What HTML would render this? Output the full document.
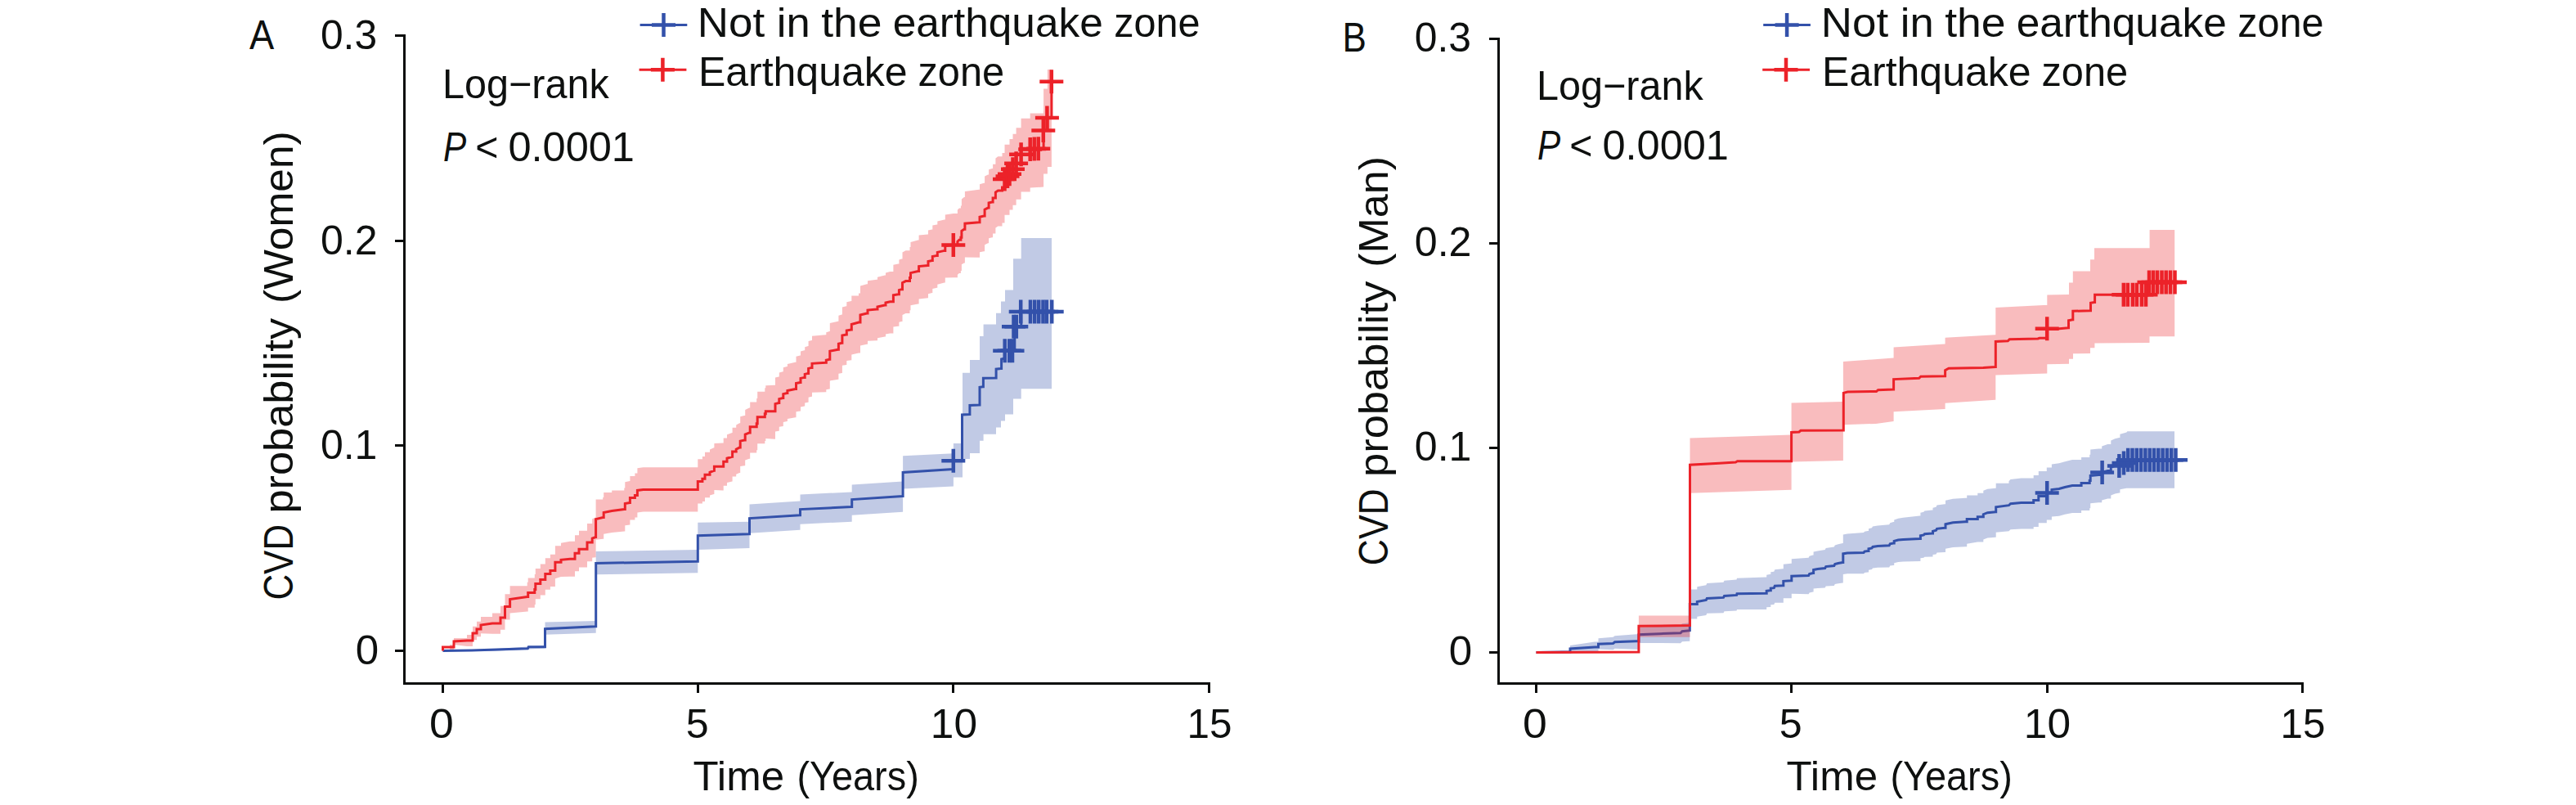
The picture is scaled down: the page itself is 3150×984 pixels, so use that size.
<!DOCTYPE html>
<html lang="en"><head><meta charset="utf-8"><title>CVD probability by earthquake zone</title>
<style>html,body{margin:0;padding:0;background:#fff}svg{display:block}text{font-family:"Liberation Sans", sans-serif;font-size:50.0px;fill:#0e100f}</style></head><body>
<svg width="3150" height="984" viewBox="0 0 3150 984">
<rect width="3150" height="984" fill="#fff"/>
<g id="panelA">
<polygon points="541.5,795.5 600.0,793.5 645.0,790.5 666.3,789.0 666.5,789.0 666.5,760.6 728.5,759.0 728.7,759.0 728.7,674.0 852.9,672.0 853.3,672.0 853.3,638.7 916.3,637.7 916.5,637.7 916.5,616.5 978.2,612.6 978.5,612.6 978.5,604.5 1041.5,601.5 1041.7,601.5 1041.7,592.4 1103.9,588.4 1104.1,588.4 1104.1,557.2 1165.7,554.2 1165.9,554.2 1165.9,542.0 1176.9,542.0 1177.0,542.0 1177.0,455.8 1186.0,455.8 1186.0,440.0 1198.0,440.0 1198.0,410.9 1202.6,410.9 1202.6,396.4 1218.0,396.4 1218.0,382.7 1224.0,382.7 1224.0,368.6 1229.0,368.6 1229.0,354.5 1239.0,354.5 1239.0,316.3 1248.7,316.3 1248.7,291.1 1286.0,291.1 1286.0,475.3 1248.7,475.3 1248.7,487.4 1239.0,487.4 1239.0,506.5 1229.0,506.5 1229.0,514.6 1224.0,514.6 1224.0,522.6 1218.0,522.6 1218.0,530.7 1202.6,530.7 1202.6,538.7 1198.0,538.7 1198.0,554.0 1186.0,554.0 1186.0,561.0 1177.0,561.0 1177.0,583.4 1176.9,583.4 1165.9,583.4 1165.9,594.5 1165.7,594.5 1104.1,597.5 1104.1,625.7 1103.9,625.7 1041.7,629.7 1041.7,637.7 1041.5,637.7 978.5,640.7 978.5,647.8 978.2,647.8 916.5,651.8 916.5,669.9 916.3,669.9 853.3,671.9 853.3,700.2 852.9,700.2 728.7,702.3 728.7,773.7 728.5,773.7 666.5,775.7 666.5,792.5 666.3,792.5 600.0,796.0 541.5,795.5" fill="#3351AA" fill-opacity="0.30"/>
<polyline points="541.5,795.5 577.0,795.0 645.3,792.8 646.3,790.8 666.3,790.8 666.5,790.8 666.5,768.7 727.8,765.7 728.5,765.7 728.7,765.7 728.7,688.5 852.9,686.2 853.3,686.2 853.3,654.8 916.3,652.8 916.5,652.8 916.5,633.6 978.2,629.7 978.5,629.7 978.5,622.6 1041.5,619.6 1041.7,619.6 1041.7,610.6 1103.9,606.5 1104.1,606.5 1104.1,577.4 1165.7,573.6 1165.9,573.6 1165.9,563.3 1175.3,563.3 1176.5,563.3 1176.5,507.0 1185.3,506.5 1185.9,506.5 1185.9,495.5 1197.4,495.0 1198.0,495.0 1198.0,473.3 1202.0,472.8 1202.4,472.8 1202.4,462.3 1217.5,461.9 1218.1,461.9 1218.1,451.2 1223.6,450.6 1224.6,450.6 1224.6,439.0 1228.6,438.0 1229.0,438.0 1229.0,429.0 1240.6,429.0 1240.8,429.0 1240.8,399.2 1248.6,399.2 1248.8,399.2 1248.8,380.7 1287.0,380.7" fill="none" stroke="#3351AA" stroke-width="3" stroke-linejoin="miter"/>
<path d="M1151.3 563.3H1180.3M1165.8 548.8V577.8" stroke="#3351AA" stroke-width="4.5" fill="none"/>
<path d="M1214.2 428.8H1243.2M1228.7 414.3V443.3" stroke="#3351AA" stroke-width="4.5" fill="none"/>
<path d="M1219.7 428.8H1248.7M1234.2 414.3V443.3" stroke="#3351AA" stroke-width="4.5" fill="none"/>
<path d="M1223.5 428.8H1252.5M1238.0 414.3V443.3" stroke="#3351AA" stroke-width="4.5" fill="none"/>
<path d="M1225.0 399.3H1254.0M1239.5 384.8V413.8" stroke="#3351AA" stroke-width="4.5" fill="none"/>
<path d="M1228.3 399.3H1257.3M1242.8 384.8V413.8" stroke="#3351AA" stroke-width="4.5" fill="none"/>
<path d="M1233.7 380.9H1262.7M1248.2 366.4V395.4" stroke="#3351AA" stroke-width="4.5" fill="none"/>
<path d="M1245.5 380.9H1274.5M1260.0 366.4V395.4" stroke="#3351AA" stroke-width="4.5" fill="none"/>
<path d="M1250.7 380.9H1279.7M1265.2 366.4V395.4" stroke="#3351AA" stroke-width="4.5" fill="none"/>
<path d="M1255.7 380.9H1284.7M1270.2 366.4V395.4" stroke="#3351AA" stroke-width="4.5" fill="none"/>
<path d="M1261.0 380.9H1290.0M1275.5 366.4V395.4" stroke="#3351AA" stroke-width="4.5" fill="none"/>
<path d="M1265.3 380.9H1294.3M1279.8 366.4V395.4" stroke="#3351AA" stroke-width="4.5" fill="none"/>
<path d="M1271.7 380.9H1300.7M1286.2 366.4V395.4" stroke="#3351AA" stroke-width="4.5" fill="none"/>
<polygon points="541.5,795.5 541.5,791.0 550.0,791.0 550.0,788.0 555.0,788.0 555.0,780.0 571.0,780.0 571.0,776.0 578.0,776.0 578.0,765.7 583.0,765.7 583.0,759.8 588.0,759.8 588.0,754.0 602.0,754.0 602.0,749.4 612.0,749.4 612.0,740.7 617.5,740.7 617.5,726.3 623.6,726.3 623.6,716.2 644.7,716.2 644.7,711.7 645.7,711.7 645.7,706.6 653.8,706.6 653.8,702.1 654.8,702.1 654.8,695.0 660.8,695.0 660.8,689.6 666.8,689.6 666.8,682.2 672.9,682.2 672.9,677.8 678.9,677.8 678.9,667.3 686.0,667.3 686.0,663.7 697.0,661.8 703.0,661.8 703.0,654.2 708.0,654.2 708.0,648.8 718.0,648.8 718.0,639.9 724.2,639.9 724.2,634.3 728.4,632.5 728.6,632.5 728.6,610.6 737.2,610.6 737.2,608.1 738.2,608.1 738.2,602.0 748.2,602.0 748.2,599.4 763.3,599.4 763.3,596.5 764.3,596.5 764.3,589.3 770.2,588.0 770.4,588.0 770.4,582.0 776.4,582.0 776.4,578.6 779.4,578.6 779.4,572.3 786.5,571.3 852.9,571.3 853.3,571.3 853.3,561.3 858.9,561.3 858.9,557.9 862.0,557.9 862.0,552.7 868.0,552.7 868.0,549.4 873.0,547.2 873.4,547.2 873.4,542.0 884.0,541.5 884.7,541.5 884.7,535.4 889.0,535.4 889.0,531.2 895.2,528.9 895.6,528.9 895.6,522.8 900.2,522.8 900.2,519.5 904.2,517.3 905.2,517.3 905.2,509.3 910.2,507.9 911.2,507.9 911.2,500.9 916.2,498.5 917.2,498.5 917.2,491.4 925.2,491.4 925.2,486.9 926.2,486.9 926.2,478.8 935.3,478.8 935.3,474.3 936.3,474.3 936.3,471.3 947.4,470.7 948.0,470.7 948.0,461.6 952.4,460.4 952.8,460.4 952.8,455.4 957.4,454.3 957.8,454.3 957.8,449.3 962.4,448.1 962.9,448.1 962.9,445.0 972.5,442.7 973.5,442.7 973.5,435.7 978.5,434.5 979.0,434.5 979.0,429.4 983.6,428.2 984.2,428.2 984.2,424.2 988.2,423.1 988.6,423.1 988.6,417.1 992.6,416.0 993.0,416.0 993.0,410.8 1009.7,409.3 1010.3,409.3 1010.3,406.3 1014.4,405.1 1014.8,405.1 1014.8,395.0 1024.8,392.7 1025.4,392.7 1025.4,385.7 1029.5,384.5 1029.9,384.5 1029.9,375.4 1034.9,374.2 1035.3,374.2 1035.3,369.2 1040.9,368.0 1041.3,368.0 1041.3,361.4 1050.0,361.4 1050.0,358.6 1052.0,358.6 1052.0,349.5 1060.0,347.2 1061.0,347.2 1061.0,343.2 1072.0,341.8 1073.0,341.8 1073.0,338.8 1082.0,336.5 1083.0,336.5 1083.0,333.4 1088.4,332.0 1092.4,332.0 1092.4,323.8 1098.4,322.6 1099.4,322.6 1099.4,317.6 1102.4,316.5 1103.5,316.5 1103.5,308.4 1107.5,306.2 1112.5,306.2 1112.5,302.0 1113.5,302.0 1113.5,296.0 1122.6,293.6 1123.6,293.6 1123.6,287.5 1134.6,286.5 1135.0,286.5 1135.0,281.5 1139.7,280.5 1140.3,280.5 1140.3,275.5 1145.7,274.4 1146.3,274.4 1146.3,270.4 1154.8,268.4 1155.8,268.4 1155.8,262.4 1165.8,260.9 1170.9,260.9 1170.9,256.6 1172.9,254.5 1174.9,254.5 1174.9,251.4 1175.9,251.4 1175.9,243.4 1178.9,241.1 1179.9,241.1 1179.9,234.1 1197.0,231.8 1198.0,231.8 1198.0,225.2 1203.0,223.7 1204.1,223.7 1204.1,215.6 1208.1,213.4 1209.1,213.4 1209.1,207.2 1213.1,205.9 1214.1,205.9 1214.1,200.8 1217.4,200.8 1217.4,193.6 1220.4,191.3 1225.5,191.3 1225.5,187.0 1228.5,187.0 1228.5,176.7 1234.5,176.7 1234.5,170.0 1238.5,170.0 1238.5,163.7 1242.6,163.7 1242.6,156.2 1248.6,156.2 1248.6,144.7 1259.7,144.7 1259.7,138.6 1275.9,138.6 1275.9,135.6 1276.1,135.6 1276.1,108.5 1280.7,108.5 1280.9,108.5 1280.9,85.0 1285.7,85.0 1285.9,85.0 1285.9,204.2 1285.7,204.0 1280.9,204.0 1280.9,212.5 1280.7,212.5 1276.1,212.5 1276.1,228.6 1275.9,228.6 1259.7,229.6 1259.7,234.6 1248.6,234.6 1248.6,243.7 1242.6,243.7 1242.6,250.7 1238.5,250.7 1238.5,256.6 1234.5,256.6 1234.5,262.7 1228.5,262.7 1228.5,272.6 1225.5,272.6 1225.5,276.5 1220.4,276.5 1217.4,278.4 1217.4,285.4 1214.1,285.4 1214.1,290.3 1213.1,290.3 1209.1,291.2 1209.1,297.3 1208.1,297.3 1204.1,299.2 1204.1,307.2 1203.0,307.2 1198.0,308.2 1198.0,314.7 1197.0,314.7 1179.9,314.5 1179.9,321.4 1178.9,321.4 1175.9,323.2 1175.9,331.1 1174.9,331.1 1174.9,333.9 1172.9,333.9 1170.9,335.7 1170.9,339.3 1165.8,339.3 1155.8,339.4 1155.8,345.4 1154.8,345.4 1146.3,347.7 1146.3,351.7 1145.7,351.7 1140.3,353.0 1140.3,358.0 1139.7,358.0 1135.0,359.2 1135.0,364.2 1134.6,364.2 1123.6,365.5 1123.6,371.6 1122.6,371.6 1113.5,373.2 1113.5,379.2 1112.5,379.2 1112.5,383.0 1107.5,383.0 1103.5,385.0 1103.5,392.9 1102.4,392.9 1099.4,393.8 1099.4,398.8 1098.4,398.8 1092.4,399.6 1092.4,407.6 1088.4,407.6 1083.0,408.6 1083.0,411.5 1082.0,411.5 1073.0,413.2 1073.0,416.2 1072.0,416.2 1061.0,416.8 1061.0,420.8 1060.0,420.8 1052.0,422.5 1052.0,431.4 1050.0,431.4 1041.3,433.6 1041.3,440.2 1040.9,440.2 1035.3,441.0 1035.3,446.0 1034.9,446.0 1029.9,446.8 1029.9,455.9 1029.5,455.9 1025.4,456.7 1025.4,463.7 1024.8,463.7 1014.8,465.4 1014.8,475.5 1014.4,475.5 1010.3,476.3 1010.3,479.3 1009.7,479.3 993.0,479.8 993.0,484.8 992.6,484.8 988.6,485.7 988.6,491.7 988.2,491.7 984.2,492.6 984.2,496.6 983.6,496.6 979.0,497.4 979.0,502.5 978.5,502.5 973.5,503.3 973.5,510.3 972.5,510.3 962.9,512.0 962.9,515.1 962.4,515.1 957.8,515.9 957.8,520.9 957.4,520.9 952.8,521.8 952.8,526.8 952.4,526.8 948.0,527.6 948.0,536.7 947.4,536.7 936.3,535.9 936.3,538.9 935.3,538.9 935.3,542.2 926.2,542.2 926.2,550.2 925.2,550.2 925.2,553.6 917.2,553.6 917.2,560.7 916.2,560.7 911.2,562.4 911.2,569.3 910.2,569.3 905.2,570.1 905.2,578.0 904.2,578.0 900.2,579.7 900.2,582.4 895.6,582.4 895.6,588.5 895.2,588.5 889.0,590.0 889.0,593.7 884.7,593.7 884.7,599.6 884.0,599.6 873.4,598.9 873.4,603.9 873.0,603.9 868.0,605.6 868.0,608.2 862.0,608.2 862.0,612.9 858.9,612.9 858.9,615.6 853.3,615.6 853.3,625.6 852.9,625.6 786.5,625.6 779.4,626.6 779.4,632.6 776.4,632.6 776.4,635.5 770.4,635.5 770.4,641.5 770.2,641.5 764.3,642.3 764.3,649.4 763.3,649.4 748.2,651.1 738.2,652.8 738.2,658.8 737.2,658.8 728.6,659.8 728.6,681.3 728.4,681.3 724.2,681.7 724.2,686.3 718.0,686.3 718.0,693.6 708.0,693.6 708.0,698.2 703.0,698.2 703.0,704.8 697.0,704.8 686.0,704.9 678.9,707.3 678.9,717.1 672.9,717.1 672.9,720.7 666.8,720.7 666.8,727.4 660.8,727.4 660.8,732.2 654.8,732.2 654.8,739.1 653.8,739.1 653.8,742.7 645.7,742.7 645.7,747.6 644.7,747.6 623.6,749.5 623.6,757.4 617.5,757.4 617.5,769.7 612.0,769.7 612.0,774.8 602.0,774.8 588.0,774.2 588.0,778.3 583.0,778.3 583.0,782.3 578.0,782.3 578.0,790.0 571.0,790.0 555.0,788.0 555.0,794.0 550.0,794.0 550.0,791.0 541.5,791.0 541.5,795.5" fill="#EC2229" fill-opacity="0.30"/>
<polyline points="541.5,795.5 541.5,791.0 550.0,791.0 555.0,791.0 555.0,784.0 571.0,783.0 578.0,783.0 578.0,774.0 583.0,774.0 583.0,769.0 588.0,769.0 588.0,764.0 602.0,762.0 612.0,762.0 612.0,755.0 617.5,755.0 617.5,741.6 623.6,741.6 623.6,732.6 644.7,729.5 645.7,729.5 645.7,724.5 653.8,724.5 653.8,720.5 654.8,720.5 654.8,713.5 660.8,713.5 660.8,708.4 666.8,708.4 666.8,701.4 672.9,701.4 672.9,697.4 678.9,697.4 678.9,687.3 686.0,687.3 686.0,684.3 697.0,683.3 703.0,683.3 703.0,676.2 708.0,676.2 708.0,671.2 718.0,671.2 718.0,663.1 724.2,663.1 724.2,658.0 728.4,656.5 728.6,656.5 728.6,634.6 737.2,632.6 738.2,632.6 738.2,626.6 748.2,624.6 763.3,622.6 764.3,622.6 764.3,615.5 770.2,614.5 770.4,614.5 770.4,608.5 776.4,608.5 776.4,605.5 779.4,605.5 779.4,599.4 786.5,598.4 852.9,598.4 853.3,598.4 853.3,588.4 858.9,588.4 858.9,585.3 862.0,585.3 862.0,580.3 868.0,580.3 868.0,577.3 873.0,575.3 873.4,575.3 873.4,570.2 884.0,570.2 884.7,570.2 884.7,564.2 889.0,564.2 889.0,560.2 895.2,558.2 895.6,558.2 895.6,552.1 900.2,552.1 900.2,549.1 904.2,547.1 905.2,547.1 905.2,539.1 910.2,538.0 911.2,538.0 911.2,531.0 916.2,528.9 917.2,528.9 917.2,521.8 925.2,521.8 925.2,517.8 926.2,517.8 926.2,509.7 935.3,509.7 935.3,505.7 936.3,505.7 936.3,502.7 947.4,502.7 948.0,502.7 948.0,493.6 952.4,492.6 952.8,492.6 952.8,487.6 957.4,486.6 957.8,486.6 957.8,481.6 962.4,480.6 962.9,480.6 962.9,477.5 972.5,475.5 973.5,475.5 973.5,468.5 978.5,467.5 979.0,467.5 979.0,462.4 983.6,461.4 984.2,461.4 984.2,457.4 988.2,456.4 988.6,456.4 988.6,450.4 992.6,449.4 993.0,449.4 993.0,444.3 1009.7,443.3 1010.3,443.3 1010.3,440.3 1014.4,439.3 1014.8,439.3 1014.8,429.2 1024.8,427.2 1025.4,427.2 1025.4,420.2 1029.5,419.2 1029.9,419.2 1029.9,410.1 1034.9,409.1 1035.3,409.1 1035.3,404.1 1040.9,403.1 1041.3,403.1 1041.3,396.5 1050.0,394.0 1052.0,394.0 1052.0,385.0 1060.0,383.0 1061.0,383.0 1061.0,379.0 1072.0,378.0 1073.0,378.0 1073.0,375.0 1082.0,373.0 1083.0,373.0 1083.0,370.0 1088.4,368.8 1092.4,368.8 1092.4,360.7 1098.4,359.7 1099.4,359.7 1099.4,354.7 1102.4,353.7 1103.5,353.7 1103.5,345.7 1107.5,343.6 1112.5,343.6 1112.5,339.6 1113.5,339.6 1113.5,333.6 1122.6,331.6 1123.6,331.6 1123.6,325.5 1134.6,324.5 1135.0,324.5 1135.0,319.5 1139.7,318.5 1140.3,318.5 1140.3,313.5 1145.7,312.4 1146.3,312.4 1146.3,308.4 1154.8,306.4 1155.8,306.4 1155.8,300.4 1165.8,299.4 1170.9,299.4 1170.9,295.3 1172.9,293.3 1174.9,293.3 1174.9,290.3 1175.9,290.3 1175.9,282.3 1178.9,280.2 1179.9,280.2 1179.9,273.2 1197.0,271.8 1198.0,271.8 1198.0,265.2 1203.0,264.1 1204.1,264.1 1204.1,256.1 1208.1,254.1 1209.1,254.1 1209.1,248.0 1213.1,247.0 1214.1,247.0 1214.1,242.0 1217.4,242.0 1217.4,235.0 1220.4,233.0 1225.5,233.0 1225.5,229.0 1228.5,229.0 1228.5,219.0 1234.5,219.0 1234.5,212.8 1238.5,212.8 1238.5,206.8 1242.6,206.8 1242.6,199.7 1248.6,199.7 1248.6,188.7 1259.7,188.7 1259.7,182.6 1275.9,181.6 1276.1,181.6 1276.1,159.5 1280.7,159.5 1280.9,159.5 1280.9,144.0 1285.7,144.0 1285.9,144.0 1285.9,99.7" fill="none" stroke="#EC2229" stroke-width="3" stroke-linejoin="miter"/>
<path d="M1151.3 299.4H1180.3M1165.8 284.9V313.9" stroke="#EC2229" stroke-width="4.5" fill="none"/>
<path d="M1214.0 219.0H1243.0M1228.5 204.5V233.5" stroke="#EC2229" stroke-width="4.5" fill="none"/>
<path d="M1217.5 215.5H1246.5M1232.0 201.0V230.0" stroke="#EC2229" stroke-width="4.5" fill="none"/>
<path d="M1220.0 212.8H1249.0M1234.5 198.3V227.3" stroke="#EC2229" stroke-width="4.5" fill="none"/>
<path d="M1224.0 206.8H1253.0M1238.5 192.3V221.3" stroke="#EC2229" stroke-width="4.5" fill="none"/>
<path d="M1228.1 199.7H1257.1M1242.6 185.2V214.2" stroke="#EC2229" stroke-width="4.5" fill="none"/>
<path d="M1234.1 188.7H1263.1M1248.6 174.2V203.2" stroke="#EC2229" stroke-width="4.5" fill="none"/>
<path d="M1245.2 182.6H1274.2M1259.7 168.1V197.1" stroke="#EC2229" stroke-width="4.5" fill="none"/>
<path d="M1250.2 182.0H1279.2M1264.7 167.5V196.5" stroke="#EC2229" stroke-width="4.5" fill="none"/>
<path d="M1255.2 181.8H1284.2M1269.7 167.3V196.3" stroke="#EC2229" stroke-width="4.5" fill="none"/>
<path d="M1261.3 159.5H1290.3M1275.8 145.0V174.0" stroke="#EC2229" stroke-width="4.5" fill="none"/>
<path d="M1265.9 144.0H1294.9M1280.4 129.5V158.5" stroke="#EC2229" stroke-width="4.5" fill="none"/>
<path d="M1271.3 99.7H1300.3M1285.8 85.2V114.2" stroke="#EC2229" stroke-width="4.5" fill="none"/>
<path d="M494.5 42.5V835.5H1480.0" stroke="#0b0d0c" stroke-width="3" fill="none" stroke-linejoin="miter"/>
<path d="M483.0 43.5H496.0" stroke="#0b0d0c" stroke-width="3"/>
<path d="M483.0 294.5H496.0" stroke="#0b0d0c" stroke-width="3"/>
<path d="M483.0 544.5H496.0" stroke="#0b0d0c" stroke-width="3"/>
<path d="M483.0 795.5H496.0" stroke="#0b0d0c" stroke-width="3"/>
<path d="M541.5 834V847" stroke="#0b0d0c" stroke-width="3"/>
<path d="M853.5 834V847" stroke="#0b0d0c" stroke-width="3"/>
<path d="M1165.5 834V847" stroke="#0b0d0c" stroke-width="3"/>
<path d="M1478.5 834V847" stroke="#0b0d0c" stroke-width="3"/>
<text x="391.9" y="60.3" textLength="69.2" lengthAdjust="spacingAndGlyphs">0.3</text>
<text x="391.9" y="311.3" textLength="69.6" lengthAdjust="spacingAndGlyphs">0.2</text>
<text x="391.9" y="561.3" textLength="69.5" lengthAdjust="spacingAndGlyphs">0.1</text>
<text x="434.8" y="812.3" textLength="28.4" lengthAdjust="spacingAndGlyphs">0</text>
<text x="525.1" y="902.3" textLength="29.8" lengthAdjust="spacingAndGlyphs">0</text>
<text x="838.8" y="902.3" textLength="27.9" lengthAdjust="spacingAndGlyphs">5</text>
<text x="1137.8" y="902.3" textLength="57.2" lengthAdjust="spacingAndGlyphs">10</text>
<text x="1451.4" y="902.3" textLength="55.0" lengthAdjust="spacingAndGlyphs">15</text>
<text x="304.9" y="60.3" textLength="30.2" lengthAdjust="spacingAndGlyphs">A</text>
<text transform="translate(357.6 731.4) rotate(-90)" y="0"><tspan x="-2.2" textLength="92.7" lengthAdjust="spacingAndGlyphs">CVD</tspan> <tspan x="103.8" textLength="238.7" lengthAdjust="spacingAndGlyphs">probability</tspan> <tspan x="360.4" textLength="210.7" lengthAdjust="spacingAndGlyphs">(Women)</tspan></text>
<text y="966.3"><tspan x="847.6" textLength="111.4" lengthAdjust="spacingAndGlyphs">Time</tspan> <tspan x="974.4" textLength="149.4" lengthAdjust="spacingAndGlyphs">(Years)</tspan></text>
<text x="540.9" y="119.7" textLength="203.8" lengthAdjust="spacingAndGlyphs">Log−rank</text>
<text y="196.7"><tspan x="541.9" textLength="28.2" lengthAdjust="spacingAndGlyphs" font-style="italic">P</tspan> <tspan x="581.3" textLength="28.2" lengthAdjust="spacingAndGlyphs">&lt;</tspan> <tspan x="621.4" textLength="154.6" lengthAdjust="spacingAndGlyphs">0.0001</tspan></text>
<path d="M782.6 30.5H840.3" stroke="#3351AA" stroke-width="3"/>
<path d="M797.0 30.6H826.0M811.5 16.1V45.1" stroke="#3351AA" stroke-width="4.5" fill="none"/>
<path d="M781.6 85.3H839.4" stroke="#EC2229" stroke-width="3"/>
<path d="M795.9 85.3H824.9M810.4 70.8V99.8" stroke="#EC2229" stroke-width="4.5" fill="none"/>
<text y="44.9"><tspan x="852.8" textLength="82.3" lengthAdjust="spacingAndGlyphs">Not</tspan> <tspan x="949.8" textLength="40.9" lengthAdjust="spacingAndGlyphs">in</tspan> <tspan x="1004.2" textLength="74.4" lengthAdjust="spacingAndGlyphs">the</tspan> <tspan x="1091.7" textLength="257.1" lengthAdjust="spacingAndGlyphs">earthquake</tspan> <tspan x="1362.2" textLength="105.4" lengthAdjust="spacingAndGlyphs">zone</tspan></text>
<text y="104.7"><tspan x="853.9" textLength="255.7" lengthAdjust="spacingAndGlyphs">Earthquake</tspan> <tspan x="1122.5" textLength="105.7" lengthAdjust="spacingAndGlyphs">zone</tspan></text>
</g>
<g id="panelB">
<polygon points="1878.5,797.5 1910.0,795.7 1920.0,795.7 1920.0,789.0 1950.0,784.5 1954.5,784.5 1954.5,780.3 1972.6,778.8 1974.6,777.2 2001.0,775.3 2003.7,775.2 2003.9,775.2 2003.9,767.1 2029.0,765.8 2055.0,764.4 2057.0,762.3 2066.3,761.2 2066.3,720.5 2075.3,720.5 2075.3,717.3 2086.3,715.2 2087.3,713.0 2107.5,711.7 2108.5,709.7 2123.6,708.4 2124.0,706.8 2159.2,705.6 2160.2,705.6 2160.2,702.8 2164.3,702.0 2165.3,702.0 2165.3,699.2 2169.3,698.7 2170.3,696.2 2180.4,695.2 2180.8,695.2 2180.8,689.8 2190.4,688.8 2190.8,688.8 2190.8,683.3 2211.6,681.8 2212.6,679.8 2217.0,678.6 2217.6,678.6 2217.6,674.6 2222.6,673.4 2231.7,672.0 2232.7,669.9 2242.8,668.5 2243.8,666.5 2247.8,665.2 2253.2,664.0 2253.8,664.0 2253.8,653.4 2258.9,652.4 2279.0,651.1 2280.0,649.7 2284.0,648.9 2285.0,648.9 2285.0,646.2 2289.0,645.2 2290.0,643.6 2296.1,642.4 2310.2,641.3 2311.2,639.2 2315.2,638.1 2316.2,638.1 2316.2,635.5 2321.2,633.7 2327.3,632.7 2347.4,630.4 2348.4,630.4 2348.4,626.7 2352.4,625.7 2353.4,624.5 2362.5,623.4 2363.5,623.4 2363.5,620.8 2367.5,619.7 2368.5,617.6 2378.0,616.3 2379.0,616.3 2379.0,611.8 2388.1,609.8 2403.2,608.8 2405.2,608.8 2405.2,605.4 2418.3,605.4 2418.3,602.8 2425.3,602.8 2425.3,599.7 2430.4,597.7 2440.3,596.7 2440.7,596.7 2440.7,590.7 2456.5,590.7 2456.5,588.2 2458.5,586.1 2471.6,584.6 2486.7,584.6 2486.7,581.1 2492.8,581.1 2492.8,575.9 2502.8,575.9 2502.8,571.6 2508.9,571.6 2508.9,567.4 2517.9,566.3 2525.0,564.2 2534.0,562.0 2545.1,562.0 2545.1,558.9 2555.2,558.9 2555.2,555.7 2556.2,555.7 2556.2,549.6 2566.2,548.5 2570.2,548.5 2570.2,545.4 2577.3,542.9 2581.3,542.9 2581.3,538.6 2586.3,536.3 2591.4,535.0 2592.4,535.0 2592.4,530.8 2600.4,528.4 2601.4,527.3 2659.0,527.3 2659.0,596.8 2601.4,596.8 2600.4,596.8 2592.4,598.3 2592.4,602.4 2591.4,602.4 2586.3,603.4 2581.3,605.4 2581.3,609.4 2577.3,609.4 2570.2,611.4 2570.2,614.3 2566.2,614.3 2556.2,615.2 2556.2,621.3 2555.2,621.3 2555.2,624.1 2545.1,624.1 2545.1,627.0 2534.0,627.0 2525.0,628.8 2517.9,630.7 2508.9,631.6 2508.9,635.6 2502.8,635.6 2502.8,639.3 2492.8,639.3 2492.8,644.1 2486.7,644.1 2486.7,646.6 2471.6,646.6 2458.5,647.3 2456.5,649.2 2440.7,650.7 2440.7,656.7 2440.3,656.7 2430.4,657.5 2425.3,659.5 2425.3,662.4 2418.3,662.4 2405.2,664.8 2405.2,668.2 2403.2,668.2 2388.1,668.9 2379.0,670.7 2379.0,675.0 2378.0,675.0 2368.5,675.4 2367.5,677.4 2363.5,678.0 2363.5,680.6 2362.5,680.6 2353.4,680.7 2352.4,681.8 2348.4,682.3 2348.4,685.9 2347.4,685.9 2327.3,686.5 2321.2,687.0 2316.2,688.3 2316.2,690.9 2315.2,690.9 2311.2,691.6 2310.2,693.6 2296.1,693.8 2290.0,694.6 2289.0,696.1 2285.0,696.8 2285.0,699.5 2284.0,699.5 2280.0,700.0 2279.0,701.3 2258.9,701.3 2253.8,701.9 2253.8,712.5 2253.2,712.5 2247.8,713.2 2243.8,714.1 2242.8,716.0 2232.7,716.5 2231.7,718.4 2222.6,718.9 2217.6,719.6 2217.6,723.6 2217.0,723.6 2212.6,724.4 2211.6,726.3 2190.8,725.8 2190.8,731.2 2190.4,731.2 2180.8,731.3 2180.8,736.7 2180.4,736.7 2170.3,736.7 2169.3,739.1 2165.3,739.2 2165.3,741.9 2164.3,741.9 2160.2,742.3 2160.2,745.0 2159.2,745.0 2124.0,744.9 2123.6,746.5 2108.5,747.2 2107.5,749.2 2087.3,749.8 2086.3,751.9 2075.3,753.7 2075.3,756.5 2066.3,756.5 2066.3,783.7 2057.0,784.3 2055.0,786.2 2029.0,786.0 2003.9,785.9 2003.9,794.0 2003.7,794.0 2001.0,793.8 1974.6,792.8 1972.6,794.2 1954.5,793.6 1954.5,797.2 1950.0,797.2 1920.0,797.5 1910.0,798.5 1878.5,797.5" fill="#3351AA" fill-opacity="0.30"/>
<polyline points="1878.5,797.5 1910.0,797.0 1920.0,797.0 1920.0,793.0 1950.0,791.0 1954.5,791.0 1954.5,787.2 1972.6,786.4 1974.6,784.8 2001.0,783.8 2003.7,783.8 2003.9,783.8 2003.9,775.7 2029.0,774.7 2055.0,773.7 2057.0,771.7 2066.3,770.7 2066.3,738.5 2075.3,738.5 2075.3,735.5 2086.3,733.5 2087.3,731.4 2107.5,730.4 2108.5,728.4 2123.6,727.4 2124.0,725.8 2159.2,725.2 2160.2,725.2 2160.2,722.4 2164.3,721.8 2165.3,721.8 2165.3,719.1 2169.3,718.7 2170.3,716.3 2180.4,715.7 2180.8,715.7 2180.8,710.3 2190.4,709.7 2190.8,709.7 2190.8,704.2 2211.6,703.6 2212.6,701.6 2217.0,700.6 2217.6,700.6 2217.6,696.6 2222.6,695.6 2231.7,694.6 2232.7,692.6 2242.8,691.6 2243.8,689.6 2247.8,688.5 2253.2,687.5 2253.8,687.5 2253.8,676.9 2258.9,676.1 2279.0,675.5 2280.0,674.1 2284.0,673.5 2285.0,673.5 2285.0,670.8 2289.0,670.0 2290.0,668.4 2296.1,667.4 2310.2,666.8 2311.2,664.8 2315.2,664.0 2316.2,664.0 2316.2,661.4 2321.2,660.0 2327.3,659.4 2347.4,658.4 2348.4,658.4 2348.4,654.7 2352.4,653.9 2353.4,652.7 2362.5,651.9 2363.5,651.9 2363.5,649.3 2367.5,648.3 2368.5,646.3 2378.0,645.2 2379.0,645.2 2379.0,640.8 2388.1,638.8 2403.2,637.8 2405.2,637.8 2405.2,634.4 2418.3,634.4 2418.3,631.8 2425.3,631.8 2425.3,628.7 2430.4,626.7 2440.3,625.7 2440.7,625.7 2440.7,619.7 2456.5,617.7 2458.5,615.7 2471.6,614.6 2486.7,614.6 2486.7,611.6 2492.8,611.6 2492.8,606.6 2502.8,606.6 2502.8,602.6 2508.9,602.6 2508.9,598.5 2517.9,597.5 2525.0,595.5 2534.0,593.5 2545.1,593.5 2545.1,590.5 2555.2,590.5 2555.2,587.5 2556.2,587.5 2556.2,581.4 2566.2,580.4 2570.2,580.4 2570.2,577.4 2577.3,575.4 2581.3,575.4 2581.3,571.4 2586.3,569.4 2591.4,568.4 2592.4,568.4 2592.4,564.3 2600.4,562.7 2601.4,562.3 2660.0,562.3" fill="none" stroke="#3351AA" stroke-width="3" stroke-linejoin="miter"/>
<path d="M2488.7 602.4H2517.7M2503.2 587.9V616.9" stroke="#3351AA" stroke-width="4.5" fill="none"/>
<path d="M2556.1 577.4H2585.1M2570.6 562.9V591.9" stroke="#3351AA" stroke-width="4.5" fill="none"/>
<path d="M2576.9 569.5H2605.9M2591.4 555.0V584.0" stroke="#3351AA" stroke-width="4.5" fill="none"/>
<path d="M2582.5 566.0H2611.5M2597.0 551.5V580.5" stroke="#3351AA" stroke-width="4.5" fill="none"/>
<path d="M2587.7 562.3H2616.7M2602.2 547.8V576.8" stroke="#3351AA" stroke-width="4.5" fill="none"/>
<path d="M2593.0 562.3H2622.0M2607.5 547.8V576.8" stroke="#3351AA" stroke-width="4.5" fill="none"/>
<path d="M2598.3 562.3H2627.3M2612.8 547.8V576.8" stroke="#3351AA" stroke-width="4.5" fill="none"/>
<path d="M2603.6 562.3H2632.6M2618.1 547.8V576.8" stroke="#3351AA" stroke-width="4.5" fill="none"/>
<path d="M2608.9 562.3H2637.9M2623.4 547.8V576.8" stroke="#3351AA" stroke-width="4.5" fill="none"/>
<path d="M2614.2 562.3H2643.2M2628.7 547.8V576.8" stroke="#3351AA" stroke-width="4.5" fill="none"/>
<path d="M2619.5 562.3H2648.5M2634.0 547.8V576.8" stroke="#3351AA" stroke-width="4.5" fill="none"/>
<path d="M2624.8 562.3H2653.8M2639.3 547.8V576.8" stroke="#3351AA" stroke-width="4.5" fill="none"/>
<path d="M2630.1 562.3H2659.1M2644.6 547.8V576.8" stroke="#3351AA" stroke-width="4.5" fill="none"/>
<path d="M2635.4 562.3H2664.4M2649.9 547.8V576.8" stroke="#3351AA" stroke-width="4.5" fill="none"/>
<path d="M2640.7 562.3H2669.7M2655.2 547.8V576.8" stroke="#3351AA" stroke-width="4.5" fill="none"/>
<path d="M2646.0 562.3H2675.0M2660.5 547.8V576.8" stroke="#3351AA" stroke-width="4.5" fill="none"/>
<polygon points="1878.5,797.5 2003.7,796.0 2003.9,796.0 2003.9,752.6 2066.2,752.6 2066.5,752.6 2066.5,535.4 2190.4,531.4 2190.6,531.4 2190.6,492.5 2253.7,491.1 2253.9,491.1 2253.9,442.0 2315.4,437.5 2315.6,437.5 2315.6,424.4 2378.4,420.4 2378.6,420.4 2378.6,412.7 2440.1,409.3 2440.3,409.3 2440.3,376.1 2499.0,373.1 2503.1,373.1 2503.3,373.1 2503.3,360.6 2529.4,360.0 2530.0,360.0 2530.0,345.5 2534.8,345.5 2534.8,331.4 2556.0,331.4 2556.0,317.3 2561.0,317.3 2561.0,303.2 2628.6,303.2 2628.6,281.0 2659.2,281.0 2659.2,411.3 2628.5,411.3 2628.5,419.0 2561.4,419.4 2561.4,425.3 2556.0,425.3 2556.0,432.0 2535.0,432.2 2535.0,438.8 2530.0,438.8 2530.0,444.7 2503.3,445.3 2503.3,456.4 2503.1,456.4 2440.3,458.6 2440.3,488.8 2440.1,488.8 2378.6,492.8 2378.6,499.9 2378.4,499.9 2315.6,503.3 2315.6,515.0 2315.4,515.0 2294.0,517.9 2253.9,519.3 2253.9,563.0 2253.7,563.0 2190.6,564.6 2190.6,598.8 2190.4,598.8 2066.5,602.8 2066.5,778.7 2066.2,778.7 2003.9,778.7 2003.9,798.0 2003.7,798.0 1878.5,797.5" fill="#EC2229" fill-opacity="0.30"/>
<polyline points="1878.5,797.5 2003.7,797.0 2003.9,797.0 2003.9,765.3 2066.2,764.6 2066.5,764.6 2066.5,568.2 2102.3,566.2 2122.4,565.0 2124.5,563.8 2190.4,563.8 2190.6,563.8 2190.6,528.4 2200.0,528.0 2202.0,526.3 2253.7,526.0 2254.3,526.0 2254.3,480.3 2259.3,479.0 2294.5,478.5 2296.5,476.7 2315.4,476.0 2315.6,476.0 2315.6,463.6 2346.7,462.2 2348.7,460.2 2378.4,459.8 2378.6,459.8 2378.6,452.6 2382.9,450.2 2425.2,449.6 2440.1,448.5 2440.3,448.5 2440.3,417.4 2455.3,416.8 2457.3,414.7 2492.0,414.0 2494.0,413.3 2503.1,413.3 2503.3,413.3 2503.3,401.8 2518.3,401.8 2529.3,400.8 2529.5,400.8 2529.5,391.8 2534.4,390.8 2534.8,390.8 2534.8,380.3 2556.1,379.7 2556.5,379.7 2556.5,370.2 2561.0,369.6 2561.6,369.6 2561.6,360.2 2625.9,360.2 2626.1,360.2 2626.1,344.9 2660.0,344.9" fill="none" stroke="#EC2229" stroke-width="3" stroke-linejoin="miter"/>
<path d="M2488.7 401.8H2517.7M2503.2 387.3V416.3" stroke="#EC2229" stroke-width="4.5" fill="none"/>
<path d="M2582.3 360.2H2611.3M2596.8 345.7V374.7" stroke="#EC2229" stroke-width="4.5" fill="none"/>
<path d="M2587.3 360.2H2616.3M2601.8 345.7V374.7" stroke="#EC2229" stroke-width="4.5" fill="none"/>
<path d="M2593.4 360.2H2622.4M2607.9 345.7V374.7" stroke="#EC2229" stroke-width="4.5" fill="none"/>
<path d="M2598.4 360.2H2627.4M2612.9 345.7V374.7" stroke="#EC2229" stroke-width="4.5" fill="none"/>
<path d="M2604.4 360.2H2633.4M2618.9 345.7V374.7" stroke="#EC2229" stroke-width="4.5" fill="none"/>
<path d="M2609.5 360.2H2638.5M2624.0 345.7V374.7" stroke="#EC2229" stroke-width="4.5" fill="none"/>
<path d="M2613.5 344.9H2642.5M2628.0 330.4V359.4" stroke="#EC2229" stroke-width="4.5" fill="none"/>
<path d="M2618.5 344.9H2647.5M2633.0 330.4V359.4" stroke="#EC2229" stroke-width="4.5" fill="none"/>
<path d="M2623.5 344.9H2652.5M2638.0 330.4V359.4" stroke="#EC2229" stroke-width="4.5" fill="none"/>
<path d="M2629.0 344.9H2658.0M2643.5 330.4V359.4" stroke="#EC2229" stroke-width="4.5" fill="none"/>
<path d="M2634.2 344.9H2663.2M2648.7 330.4V359.4" stroke="#EC2229" stroke-width="4.5" fill="none"/>
<path d="M2639.5 344.9H2668.5M2654.0 330.4V359.4" stroke="#EC2229" stroke-width="4.5" fill="none"/>
<path d="M2645.0 344.9H2674.0M2659.5 330.4V359.4" stroke="#EC2229" stroke-width="4.5" fill="none"/>
<path d="M1832.5 46.5V835.5H2817.0" stroke="#0b0d0c" stroke-width="3" fill="none" stroke-linejoin="miter"/>
<path d="M1821.0 47.5H1834.0" stroke="#0b0d0c" stroke-width="3"/>
<path d="M1821.0 297.5H1834.0" stroke="#0b0d0c" stroke-width="3"/>
<path d="M1821.0 547.5H1834.0" stroke="#0b0d0c" stroke-width="3"/>
<path d="M1821.0 797.5H1834.0" stroke="#0b0d0c" stroke-width="3"/>
<path d="M1878.5 834V847" stroke="#0b0d0c" stroke-width="3"/>
<path d="M2190.5 834V847" stroke="#0b0d0c" stroke-width="3"/>
<path d="M2503.5 834V847" stroke="#0b0d0c" stroke-width="3"/>
<path d="M2815.5 834V847" stroke="#0b0d0c" stroke-width="3"/>
<text x="1729.8" y="63.0" textLength="69.3" lengthAdjust="spacingAndGlyphs">0.3</text>
<text x="1729.8" y="313.0" textLength="69.7" lengthAdjust="spacingAndGlyphs">0.2</text>
<text x="1729.8" y="563.0" textLength="69.6" lengthAdjust="spacingAndGlyphs">0.1</text>
<text x="1771.8" y="813.0" textLength="28.4" lengthAdjust="spacingAndGlyphs">0</text>
<text x="1862.1" y="902.3" textLength="29.8" lengthAdjust="spacingAndGlyphs">0</text>
<text x="2175.8" y="902.3" textLength="27.9" lengthAdjust="spacingAndGlyphs">5</text>
<text x="2474.8" y="902.3" textLength="57.2" lengthAdjust="spacingAndGlyphs">10</text>
<text x="2788.4" y="902.3" textLength="55.0" lengthAdjust="spacingAndGlyphs">15</text>
<text x="1641.5" y="63.0" textLength="29.4" lengthAdjust="spacingAndGlyphs">B</text>
<text transform="translate(1696.6 689.0) rotate(-90)" y="0"><tspan x="-2.2" textLength="93.8" lengthAdjust="spacingAndGlyphs">CVD</tspan> <tspan x="106.0" textLength="239.2" lengthAdjust="spacingAndGlyphs">probability</tspan> <tspan x="362.2" textLength="135.8" lengthAdjust="spacingAndGlyphs">(Man)</tspan></text>
<text y="966.3"><tspan x="2184.6" textLength="111.4" lengthAdjust="spacingAndGlyphs">Time</tspan> <tspan x="2311.4" textLength="149.4" lengthAdjust="spacingAndGlyphs">(Years)</tspan></text>
<text x="1878.9" y="121.9" textLength="203.8" lengthAdjust="spacingAndGlyphs">Log−rank</text>
<text y="194.7"><tspan x="1879.9" textLength="28.2" lengthAdjust="spacingAndGlyphs" font-style="italic">P</tspan> <tspan x="1919.3" textLength="28.2" lengthAdjust="spacingAndGlyphs">&lt;</tspan> <tspan x="1959.4" textLength="154.6" lengthAdjust="spacingAndGlyphs">0.0001</tspan></text>
<path d="M2156.2 30.5H2213.9" stroke="#3351AA" stroke-width="3"/>
<path d="M2170.6 30.6H2199.6M2185.1 16.1V45.1" stroke="#3351AA" stroke-width="4.5" fill="none"/>
<path d="M2155.2 85.3H2213.0" stroke="#EC2229" stroke-width="3"/>
<path d="M2169.5 85.3H2198.5M2184.0 70.8V99.8" stroke="#EC2229" stroke-width="4.5" fill="none"/>
<text y="44.9"><tspan x="2226.8" textLength="82.3" lengthAdjust="spacingAndGlyphs">Not</tspan> <tspan x="2323.8" textLength="40.9" lengthAdjust="spacingAndGlyphs">in</tspan> <tspan x="2378.2" textLength="74.4" lengthAdjust="spacingAndGlyphs">the</tspan> <tspan x="2465.7" textLength="257.1" lengthAdjust="spacingAndGlyphs">earthquake</tspan> <tspan x="2736.2" textLength="105.4" lengthAdjust="spacingAndGlyphs">zone</tspan></text>
<text y="104.7"><tspan x="2227.9" textLength="255.7" lengthAdjust="spacingAndGlyphs">Earthquake</tspan> <tspan x="2496.5" textLength="105.7" lengthAdjust="spacingAndGlyphs">zone</tspan></text>
</g>
</svg></body></html>
